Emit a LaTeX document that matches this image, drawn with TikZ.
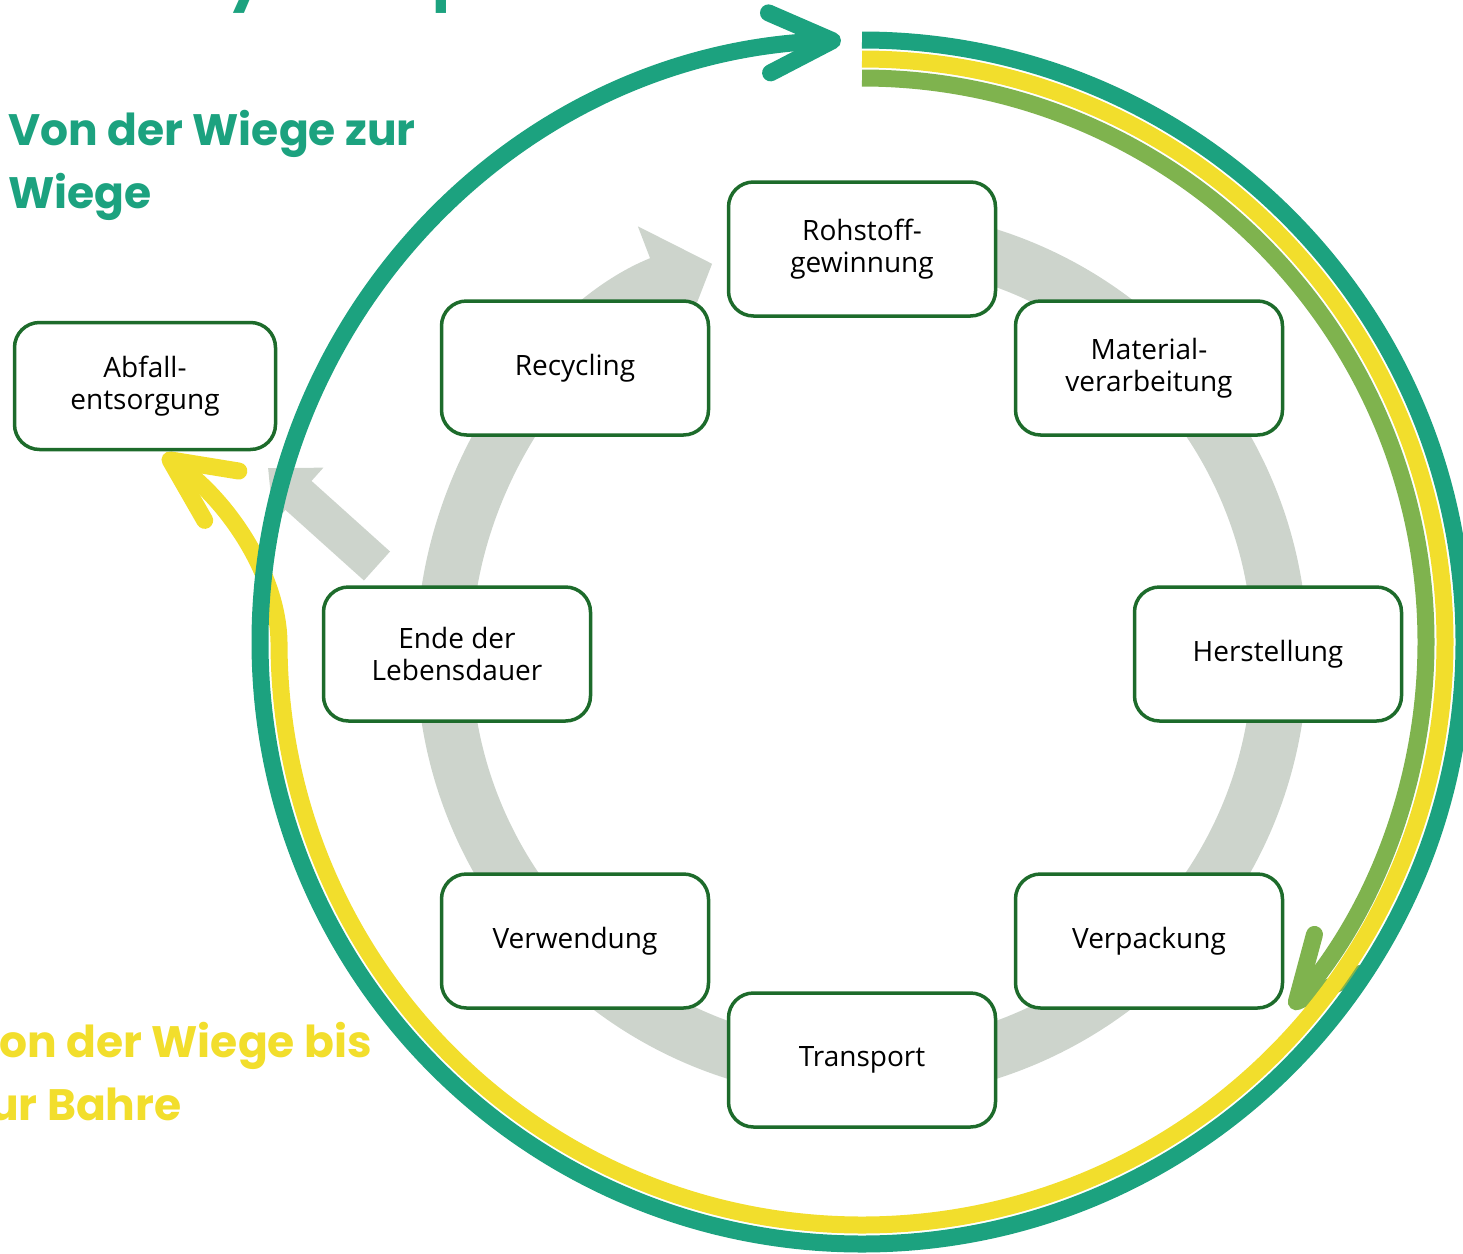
\documentclass[tikz,border=0pt]{standalone}
\usepackage{fontspec}
\setmainfont{Open Sans}
\newfontfamily\headfont{Poppins}
\usepackage{tikz}
\usetikzlibrary{arrows.meta,calc,positioning}
\definecolor{tealband}{HTML}{1CA27F}
\definecolor{yellowband}{HTML}{F2DE2C}
\definecolor{greenband}{HTML}{7FB34E}
\definecolor{ringgrey}{HTML}{CDD4CC}
\definecolor{boxgreen}{HTML}{1D6B2B}

\begin{document}
\begin{tikzpicture}[x=0.5pt,y=-0.5pt]
	\tikzstyle{phase} = [rectangle, rounded corners=12.5pt, draw=boxgreen, line width=1.75pt, fill=white, minimum width=133.5pt, minimum height=67pt, align=center, font=\fontsize{14}{16}\selectfont]
	\tikzstyle{heading} = [inner sep=0pt, anchor=base west, align=left, font=\headfont\bfseries\fontsize{22}{31.5}\selectfont]
	\tikzstyle{band} = [line width=8.5pt]
\useasboundingbox (0,0) rectangle (1463,1254);

% title, cut off by the page edge
\node[inner sep=0pt, anchor=base west, text=tealband, font=\headfont\bfseries\fontsize{30}{34}\selectfont] (t) at (-20,-3) {Lebenszyklusoptionen};

% grey cycle behind the boxes
\draw[ringgrey, line width=27.5pt, -{Triangle[length=28pt,width=60pt]}] (862,654) ++(-80:418) arc[start angle=-80, end angle=249, radius=418];
\coordinate (g0) at (377,566);
\coordinate (g1) at (268,468);
\path[draw, ringgrey, line width=19.5pt, -{Triangle[length=20.5pt,width=36pt]}] (g0) -- (g1);

% the three bands
\draw[band, greenband, -{Straight Barb[length=31.5pt,width=30pt,round]}] (862,642) ++(-90:564) arc[start angle=-90, end angle=40.5, radius=564];
\coordinate (y1) at (163,455);
\draw[band, yellowband, -{Straight Barb[length=31.5pt,width=30pt,round]}] (862,642) ++(-90:583) arc[start angle=-90, end angle=180, radius=583] .. controls (278,575) and (228,500) .. (y1);
\draw[band, tealband, -{Straight Barb[length=31.5pt,width=30pt,round]}] (862,642) ++(-90:602) arc[start angle=-90, end angle=268, radius=602];

\node[phase] (0) at (862,249) {Rohstoff-\\gewinnung};
\node[phase] (1) at (1149,368) {Material-\\verarbeitung};
\node[phase] (2) at (1268,654) {Herstellung};
\node[phase] (3) at (1149,941) {Verpackung};
\node[phase] (4) at (862,1060) {Transport};
\node[phase] (5) at (575,941) {Verwendung};
\node[phase] (6) at (457,654) {Ende der\\Lebensdauer};
\node[phase] (7) at (575,368) {Recycling};
\node[phase, minimum width=130.5pt, minimum height=63.5pt] (8) at (145,386) {Abfall-\\entsorgung};

\node[heading, text=tealband] (h0) at (8,208) {Von der Wiege zur\\Wiege};
\node[heading, text=yellowband] (h1) at (-33,1120) {Von der Wiege bis\\zur Bahre};
\end{tikzpicture}
\end{document}
